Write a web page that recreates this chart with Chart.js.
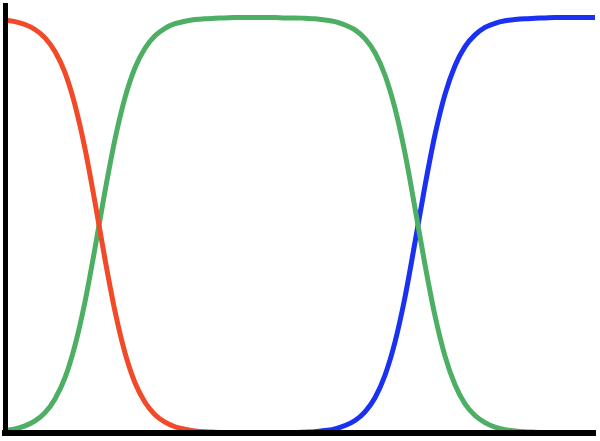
<!DOCTYPE html>
<html>
<head>
<meta charset="utf-8">
<script src="https://cdn.jsdelivr.net/npm/chart.js@4/dist/chart.umd.min.js"></script>
<style>
  html, body { margin: 0; padding: 0; background: #fff; }
  #wrap { width: 600px; height: 441px; position: relative; }
</style>
</head>
<body>
<div id="wrap"><canvas id="chart"></canvas></div>
<script>
// x positions, one step per 10px of the original picture
const xValues = [
  0, 1, 2, 3, 4, 5, 6, 7, 8, 9,
  10, 11, 12, 13, 14, 15, 16, 17, 18, 19,
  20, 21, 22, 23, 24, 25, 26, 27, 28, 29,
  30, 31, 32, 33, 34, 35, 36, 37, 38, 39,
  40, 41, 42, 43, 44, 45, 46, 47, 48, 49,
  50, 51, 52, 53, 54, 55, 56, 57, 58, 59
];

// rojo: baja de 1 a 0
const redValues = [
  0.994, 0.990, 0.983, 0.971, 0.951, 0.918, 0.867, 0.789, 0.684, 0.555,
  0.418, 0.293, 0.193, 0.121, 0.074, 0.044, 0.026, 0.015, 0.009, 0.005,
  0.003, 0.002, 0.001, 0, 0, 0, 0, 0, 0, 0,
  0, 0, 0, 0, 0, 0, 0, 0, 0, 0,
  0, 0, 0, 0, 0, 0, 0, 0, 0, 0,
  0, 0, 0, 0, 0, 0, 0, 0, 0, 0
];

// verde: sube, meseta, baja
const greenValues = [
  0.006, 0.010, 0.017, 0.029, 0.049, 0.082, 0.133, 0.211, 0.316, 0.445,
  0.582, 0.707, 0.807, 0.879, 0.926, 0.956, 0.974, 0.985, 0.991, 0.995,
  0.997, 0.998, 0.999, 1, 1, 1, 1, 1, 0.999, 0.999,
  0.998, 0.997, 0.994, 0.990, 0.982, 0.970, 0.949, 0.915, 0.861, 0.781,
  0.673, 0.541, 0.405, 0.282, 0.185, 0.116, 0.070, 0.042, 0.025, 0.014,
  0.008, 0.005, 0.003, 0.002, 0.001, 0, 0, 0, 0, 0
];

// azul: sube de 0 a 1
const blueValues = [
  0, 0, 0, 0, 0, 0, 0, 0, 0, 0,
  0, 0, 0, 0, 0, 0, 0, 0, 0, 0,
  0, 0, 0, 0, 0, 0, 0, 0, 0.001, 0.001,
  0.002, 0.003, 0.006, 0.010, 0.018, 0.030, 0.051, 0.085, 0.139, 0.219,
  0.327, 0.459, 0.595, 0.718, 0.815, 0.884, 0.930, 0.958, 0.976, 0.986,
  0.992, 0.995, 0.997, 0.998, 0.999, 1, 1, 1, 1, 1
];

const toPoints = vals => vals.map((v, i) => ({ x: xValues[i], y: v }));

const serie = (data, color) => ({
  data: toPoints(data),
  borderColor: color,
  borderWidth: 5,
  pointRadius: 0,
  fill: false,
  cubicInterpolationMode: 'monotone'
});

const ctx = document.getElementById('chart').getContext('2d');
new Chart(ctx, {
  type: 'line',
  data: {
    datasets: [
      serie(redValues, '#F24A28'),
      serie(greenValues, '#4CAF63'),
      serie(blueValues, '#1A30F2')
    ]
  },
  options: {
    responsive: true,
    maintainAspectRatio: false,
    animation: false,
    layout: { padding: { left: 5, right: 5, top: 5, bottom: 8 } },
    plugins: {
      legend: { display: false },
      tooltip: { enabled: false }
    },
    scales: {
      x: {
        type: 'linear',
        min: 0,
        max: 59,
        ticks: { display: false },
        grid: { display: false, drawTicks: false },
        border: { display: true, color: '#000', width: 6, z: 2 }
      },
      y: {
        min: 0,
        max: 1.03,
        ticks: { display: false },
        grid: { display: false, drawTicks: false },
        border: { display: true, color: '#000', width: 5, z: 2 }
      }
    }
  }
});
</script>
</body>
</html>
